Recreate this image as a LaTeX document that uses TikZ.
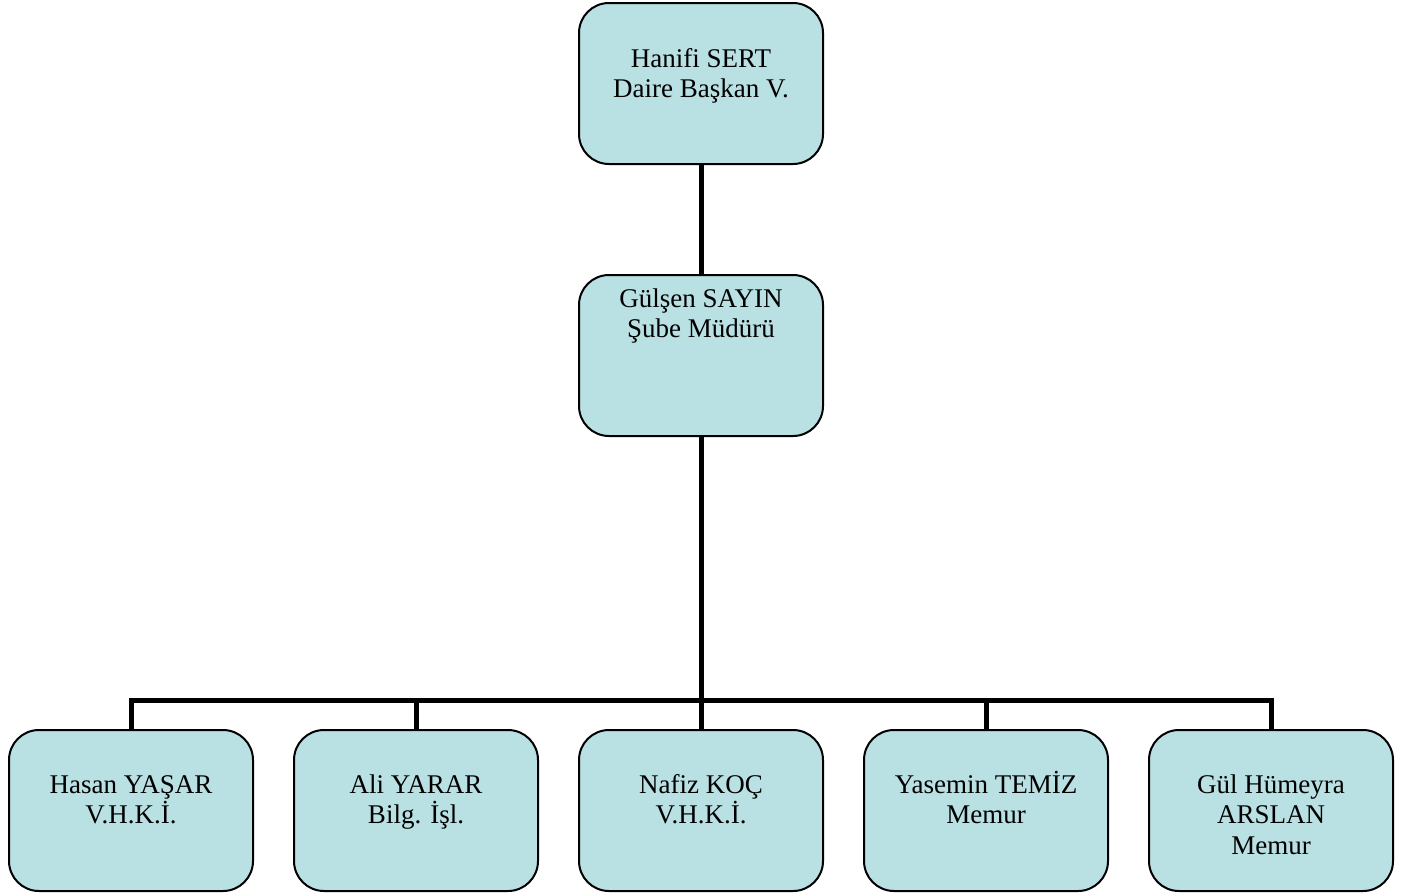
\documentclass[tikz,border=0pt]{standalone}
\usepackage{fontspec}
\setmainfont{Liberation Serif}
\definecolor{boxfill}{RGB}{185,224,227}
\tikzset{
  orgbox/.style={draw=black, line width=2pt, fill=boxfill, rounded corners=30pt,
    inner sep=0pt, minimum width=244pt, minimum height=161pt, anchor=north west,
    font=\fontsize{27pt}{30.7pt}\selectfont},
  link/.style={line width=5pt, black}
}
\newcommand{\boxtext}[2]{\parbox[c][161pt][t]{244pt}{\centering\rule{0pt}{#1}#2\par}}
\begin{document}
\begin{tikzpicture}[x=1pt,y=-1pt]
\useasboundingbox (0,0) rectangle (1407,894);
\node[orgbox] (top) at (578,2) {\boxtext{64pt}{Hanifi SERT\\Daire Başkan V.}};
\node[orgbox] (mid) at (578,274) {\boxtext{32pt}{Gülşen SAYIN\\Şube Müdürü}};
\node[orgbox] (b1) at (8,729) {\boxtext{63pt}{Hasan YAŞAR\\V.H.K.İ.}};
\node[orgbox] (b2) at (293,729) {\boxtext{63pt}{Ali YARAR\\Bilg. İşl.}};
\node[orgbox] (b3) at (578,729) {\boxtext{63pt}{Nafiz KOÇ\\V.H.K.İ.}};
\node[orgbox] (b4) at (863,729) {\boxtext{63pt}{Yasemin TEMİZ\\Memur}};
\node[orgbox] (b5) at (1148,729) {\boxtext{63pt}{Gül Hümeyra\\ARSLAN\\Memur}};
\coordinate (bar) at (700,700);
\draw[link] (top.south) -- (mid.north);
\draw[link] (mid.south) -- (mid.south |- bar);
\draw[link, line cap=rect] (b1.north |- bar) -- (b5.north |- bar);
\foreach \b in {b1,b2,b3,b4,b5}{
  \draw[link] (\b.north |- bar) -- (\b.north);
}
\end{tikzpicture}
\end{document}
